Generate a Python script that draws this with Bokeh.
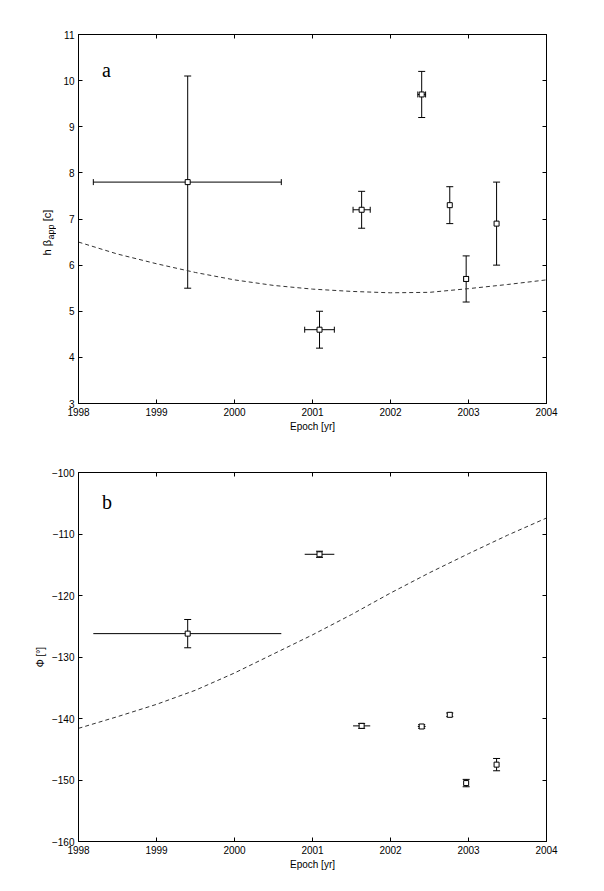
import math
from bokeh.plotting import figure
from bokeh.models import (ColumnDataSource, Whisker, TeeHead, LinearAxis, FixedTicker,
                          Range1d, Label)
from bokeh.layouts import column, row
from bokeh.embed import file_html
from bokeh.resources import INLINE

# ---- data ----
epoch = [1999.40, 2001.09, 2001.63, 2002.40, 2002.76, 2002.97, 2003.36]
epoch_lo = [1998.19, 2000.90, 2001.52, 2002.35, 2002.76, 2002.94, 2003.36]
epoch_hi = [2000.60, 2001.28, 2001.74, 2002.45, 2002.76, 2003.00, 2003.36]

beta = [7.8, 4.6, 7.2, 9.7, 7.3, 5.7, 6.9]
beta_lo = [5.5, 4.2, 6.8, 9.2, 6.9, 5.2, 6.0]
beta_hi = [10.1, 5.0, 7.6, 10.2, 7.7, 6.2, 7.8]

phi = [-126.2, -113.3, -141.2, -141.3, -139.4, -150.5, -147.5]
phi_lo = [-128.5, -113.8, -141.6, -141.6, -139.7, -151.1, -148.5]
phi_hi = [-123.9, -112.8, -140.8, -141.0, -139.1, -149.9, -146.5]

model_t = [1998.0, 1998.5, 1999.0, 1999.5, 2000.0, 2000.5, 2001.0,
           2001.5, 2002.0, 2002.5, 2003.0, 2003.5, 2004.0]
model_beta = [6.50, 6.24, 6.03, 5.84, 5.68, 5.56, 5.48, 5.43, 5.40, 5.41, 5.49, 5.58, 5.68]
model_phi = [-141.6, -139.7, -137.7, -135.4, -132.6, -129.5, -126.4,
             -123.1, -119.6, -116.3, -113.2, -110.2, -107.4]

x_ticks = [1998, 1999, 2000, 2001, 2002, 2003, 2004]
beta_ticks = [3, 4, 5, 6, 7, 8, 9, 10, 11]
phi_ticks = [-160, -150, -140, -130, -120, -110, -100]

FONT = "Liberation Sans"
TICK_FS = "10px"
LAB_W = 56


def make_fig(yr, yticks, top_border, left_border, minus=False):
    p = figure(frame_width=468, frame_height=369, output_backend="svg",
               toolbar_location=None, x_range=Range1d(1998, 2004), y_range=yr,
               min_border_left=left_border, min_border_right=50,
               min_border_top=top_border, min_border_bottom=43)
    p.xgrid.visible = False
    p.ygrid.visible = False
    p.outline_line_color = "black"
    p.background_fill_color = "white"
    p.border_fill_color = "white"
    for ax, ticks in ((p.xaxis[0], x_ticks), (p.yaxis[0], yticks)):
        ax.ticker = FixedTicker(ticks=ticks)
        ax.minor_tick_line_color = None
        ax.major_tick_in = 4
        ax.major_tick_out = 0
        ax.axis_line_color = "black"
        ax.major_tick_line_color = "black"
        ax.major_label_text_font = FONT
        ax.major_label_text_font_size = TICK_FS
        ax.major_label_text_color = "black"
        ax.major_label_standoff = 4
        ax.axis_label_text_font = FONT
        ax.axis_label_text_font_size = TICK_FS
        ax.axis_label_text_font_style = "normal"
        ax.axis_label_text_color = "black"
    if minus:
        p.yaxis[0].major_label_overrides = {t: "\u2212" + str(abs(t)) for t in yticks}
    p.xaxis[0].axis_label = "Epoch [yr]"
    p.xaxis[0].axis_label_standoff = 2
    # mirrored ticks on top/right
    top = LinearAxis(ticker=FixedTicker(ticks=x_ticks))
    right = LinearAxis(ticker=FixedTicker(ticks=yticks))
    top.major_label_overrides = {t: "" for t in x_ticks}
    right.major_label_overrides = {t: "" for t in yticks}
    for ax in (top, right):
        ax.minor_tick_line_color = None
        ax.major_tick_in = 4
        ax.major_tick_out = 0
        ax.axis_line_color = "black"
        ax.major_tick_line_color = "black"
        ax.major_label_text_font_size = "1px"
    p.add_layout(top, "above")
    p.add_layout(right, "right")
    return p


def add_errors(p, yv, ylo, yhi, xcaps=True):
    src = ColumnDataSource(dict(x=epoch, y=yv, ylo=ylo, yhi=yhi))
    p.add_layout(Whisker(source=src, base="x", lower="ylo", upper="yhi",
                         dimension="height", line_color="black", line_width=1,
                         upper_head=TeeHead(size=7, line_color="black", line_width=1),
                         lower_head=TeeHead(size=7, line_color="black", line_width=1)))
    keep = [i for i in range(len(epoch)) if epoch_hi[i] - epoch_lo[i] > 0.001]
    xsrc = ColumnDataSource(dict(y=[yv[i] for i in keep],
                                 xlo=[epoch_lo[i] for i in keep],
                                 xhi=[epoch_hi[i] for i in keep]))
    if xcaps:
        uh = TeeHead(size=6, line_color="black", line_width=1)
        lh = TeeHead(size=6, line_color="black", line_width=1)
    else:
        uh = None
        lh = None
    p.add_layout(Whisker(source=xsrc, base="y", lower="xlo", upper="xhi",
                         dimension="width", line_color="black", line_width=1,
                         upper_head=uh, lower_head=lh))
    p.scatter(x="x", y="y", source=src, marker="square", size=5,
              fill_color="white", line_color="black", line_width=1, level="overlay")


# ---- panel a ----
p1 = make_fig(Range1d(3, 11), beta_ticks, 34, 78 - LAB_W)
p1.line(model_t, model_beta, line_color="#333333", line_width=1, line_dash="4 3")
add_errors(p1, beta, beta_lo, beta_hi, xcaps=True)
p1.add_layout(Label(x=1998.30, y=10.22, text="a", text_font="Liberation Serif",
                    text_font_size="20px", text_baseline="alphabetic", text_align="left",
                    text_color="black"))

# narrow strip carrying the y label with its subscript
lab = figure(frame_width=LAB_W, frame_height=369, output_backend="svg",
             toolbar_location=None, x_range=Range1d(0, LAB_W), y_range=Range1d(3, 11),
             min_border_left=0, min_border_right=0, min_border_top=34,
             min_border_bottom=43)
lab.axis.visible = False
lab.grid.visible = False
lab.outline_line_color = None
for txt, xo, yo, fs in (("h \u03b2", 46.5, 6.209, "11px"),
                        ("app", 50.0, 6.556, "9px"),
                        ("[c]", 46.5, 6.95, "11px")):
    lab.add_layout(Label(x=xo, y=yo, text=txt, angle=math.pi / 2, text_font=FONT,
                         text_font_size=fs, text_align="left", text_baseline="middle",
                         text_color="black"))

# ---- panel b ----
p2 = make_fig(Range1d(-160, -100), phi_ticks, 26, 78, minus=True)
p2.line(model_t, model_phi, line_color="#333333", line_width=1, line_dash="4 3")
add_errors(p2, phi, phi_lo, phi_hi, xcaps=False)
p2.add_layout(Label(x=1998.30, y=-104.8, text="b", text_font="Liberation Serif",
                    text_font_size="20px", text_baseline="alphabetic", text_align="left",
                    text_color="black"))
p2.yaxis[0].axis_label = "\u03a6 [\u00b0]"
p2.yaxis[0].axis_label_standoff = 3

layout = column(row(lab, p1, spacing=0), p2, spacing=0)
open("out.html", "w").write(file_html(layout, INLINE))
